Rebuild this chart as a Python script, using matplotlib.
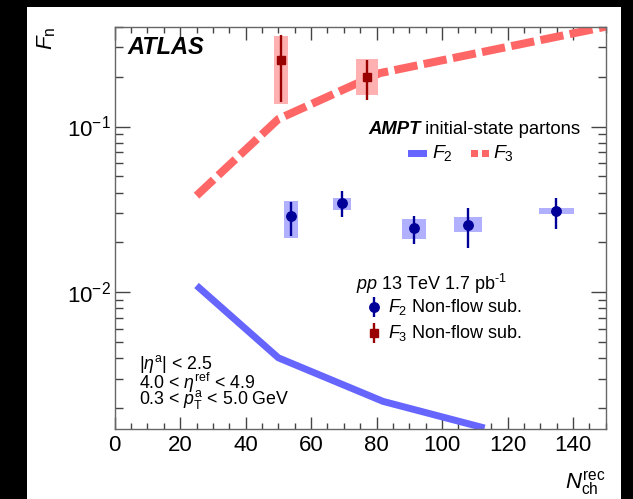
import numpy as np
import matplotlib
matplotlib.use('Agg')
import matplotlib.pyplot as plt
from matplotlib.patches import Rectangle
from matplotlib.ticker import MultipleLocator, LogLocator, NullFormatter

plt.rcParams['font.family'] = ['Liberation Sans', 'DejaVu Sans']
plt.rcParams['mathtext.fontset'] = 'custom'
plt.rcParams['mathtext.rm'] = 'Liberation Sans'
plt.rcParams['mathtext.it'] = 'Liberation Sans:italic'
plt.rcParams['mathtext.bf'] = 'Liberation Sans:bold'

# data
f2_x = [53.9, 69.4, 91.5, 107.8, 134.9]
f2_y = [0.0287, 0.0348, 0.0244, 0.0254, 0.0308]
f2_stat_hi = [0.0353, 0.041, 0.029, 0.0322, 0.037]
f2_stat_lo = [0.022, 0.0284, 0.0196, 0.0185, 0.0241]
f2_sys_hi = [0.0356, 0.037, 0.0278, 0.0286, 0.0323]
f2_sys_lo = [0.0213, 0.0312, 0.021, 0.023, 0.0295]
f2_halfw = [2.2, 2.8, 3.6, 4.3, 5.3]

f3_x = [50.8, 77.1]
f3_y = [0.252, 0.20]
f3_stat_hi = [0.356, 0.252]
f3_stat_lo = [0.1415, 0.145]
f3_sys_hi = [0.35, 0.255]
f3_sys_lo = [0.137, 0.155]
f3_halfw = [2.0, 3.4]

ampt_x2 = [25, 50, 82, 113]
ampt_f2 = [0.011, 0.00403, 0.0022, 0.00152]
ampt_x3 = [25, 50, 81, 150]
ampt_f3 = [0.0383, 0.111, 0.21, 0.40]

blue_line = '#6666ff'
red_line = '#ff6666'
blue_box = '#b0b0ff'
red_box = '#ffb0b0'
blue_pt = '#000099'
red_pt = '#990000'

fig = plt.figure(figsize=(6.33, 4.99), dpi=100, facecolor='black')
fig.add_artist(Rectangle((27 / 633, 0), 594 / 633, 492 / 499, transform=fig.transFigure,
                         facecolor='white', edgecolor='none', zorder=-10))
ax = fig.add_axes([0.1812, 0.1403, 0.7757, 0.8062])
ax.set_facecolor('white')

ax.set_yscale('log')
ax.set_xlim(0, 150)
ax.set_ylim(0.0015, 0.40)

# AMPT curves
ax.plot(ampt_x2, ampt_f2, color=blue_line, lw=5, solid_capstyle='butt', zorder=2)
ax.plot(ampt_x3, ampt_f3, color=red_line, lw=5.8, dashes=(2.9, 0.8), zorder=2)

# systematic boxes
f2_x = np.array(f2_x)
f3_x = np.array(f3_x)
ax.bar(f2_x, np.subtract(f2_sys_hi, f2_sys_lo), bottom=f2_sys_lo, width=2 * np.array(f2_halfw),
       color=blue_box, edgecolor='none', zorder=3)
ax.bar(f3_x, np.subtract(f3_sys_hi, f3_sys_lo), bottom=f3_sys_lo, width=2 * np.array(f3_halfw),
       color=red_box, edgecolor='none', zorder=3)

# data points
yerr2 = [np.subtract(f2_y, f2_stat_lo), np.subtract(f2_stat_hi, f2_y)]
ax.errorbar(f2_x, f2_y, yerr=yerr2, fmt='o', color=blue_pt, ms=6.8, elinewidth=1.7,
            capsize=0, zorder=4)
yerr3 = [np.subtract(f3_y, f3_stat_lo), np.subtract(f3_stat_hi, f3_y)]
ax.errorbar(f3_x, f3_y, yerr=yerr3, fmt='s', color=red_pt, ms=6.2, elinewidth=1.7,
            capsize=0, zorder=4)

# axes style
for s in ax.spines.values():
    s.set_color('#666666')
    s.set_linewidth(1.0)
ax.xaxis.set_major_locator(MultipleLocator(20))
ax.xaxis.set_minor_locator(MultipleLocator(5))
ax.yaxis.set_major_locator(LogLocator(base=10))
ax.yaxis.set_minor_locator(LogLocator(base=10, subs=np.arange(2, 10)))
ax.yaxis.set_minor_formatter(NullFormatter())
ax.tick_params(axis='both', which='both', direction='in', top=True, right=True,
               color='#444444', width=1.0, labelsize=16, labelcolor='black')
ax.tick_params(axis='x', which='major', length=9, pad=4)
ax.tick_params(axis='x', which='minor', length=4.3)
ax.tick_params(axis='y', which='major', length=11, pad=3)
ax.tick_params(axis='y', which='minor', length=5.5)

# axis titles
fig.text(0.0742, 0.946, r'$F_{\rm n}$', rotation=90, ha='center', va='top', fontsize=16)
fig.text(0.956, 0.02, r'$N_{\rm ch}^{\rm rec}$', ha='right', va='baseline', fontsize=16)

# annotations
ax.text(0.027, 0.948, 'ATLAS', transform=ax.transAxes, fontsize=17, fontweight='bold',
        fontstyle='italic', va='center', ha='left')
ampt = ax.text(0.516, 0.733, 'AMPT', transform=ax.transAxes, fontsize=13.3, va='baseline',
               ha='left', fontweight='bold', fontstyle='italic')
ax.annotate(' initial-state partons', xy=(1, 0), xycoords=ampt, fontsize=13.3,
            va='bottom', ha='left')

# AMPT legend
ax.add_patch(Rectangle((0.597, 0.677), 0.039, 0.017, transform=ax.transAxes,
                       facecolor=blue_line, edgecolor='none'))
ax.text(0.646, 0.685, r'$F_{2}$', transform=ax.transAxes, fontsize=14, va='center', ha='left')
ax.add_patch(Rectangle((0.725, 0.677), 0.014, 0.017, transform=ax.transAxes,
                       facecolor=red_line, edgecolor='none'))
ax.add_patch(Rectangle((0.748, 0.677), 0.014, 0.017, transform=ax.transAxes,
                       facecolor=red_line, edgecolor='none'))
ax.text(0.771, 0.685, r'$F_{3}$', transform=ax.transAxes, fontsize=14, va='center', ha='left')

# data legend
ax.text(0.4915, 0.3455, r'$pp$ 13 TeV 1.7 pb$^{\text{-1}}$', transform=ax.transAxes,
        fontsize=13, va='baseline', ha='left')
ax.errorbar([0.528], [0.304], yerr=[[0.025], [0.025]], fmt='o', color=blue_pt, ms=6.8,
            elinewidth=1.7, capsize=0, transform=ax.transAxes, clip_on=False)
ax.text(0.5566, 0.304, r'$F_{2}$ Non-flow sub.', transform=ax.transAxes, fontsize=13,
        va='center', ha='left')
ax.errorbar([0.528], [0.2394], yerr=[[0.025], [0.025]], fmt='s', color=red_pt, ms=6.2,
            elinewidth=1.7, capsize=0, transform=ax.transAxes, clip_on=False)
ax.text(0.5566, 0.2394, r'$F_{3}$ Non-flow sub.', transform=ax.transAxes, fontsize=13,
        va='center', ha='left')

# kinematic selection
ax.text(0.05, 0.15, r'$|\eta^{\rm a}|$ < 2.5', transform=ax.transAxes, fontsize=12.8,
        va='baseline', ha='left')
ax.text(0.05, 0.0987, r'4.0 < $\eta^{\rm ref}$ < 4.9', transform=ax.transAxes, fontsize=12.8,
        va='baseline', ha='left')
ax.text(0.05, 0.0621, r'0.3 < $p_{\rm T}^{\rm a}$ < 5.0 GeV', transform=ax.transAxes,
        fontsize=12.8, va='baseline', ha='left')

fig.savefig('out.png', dpi=100, facecolor='black')
